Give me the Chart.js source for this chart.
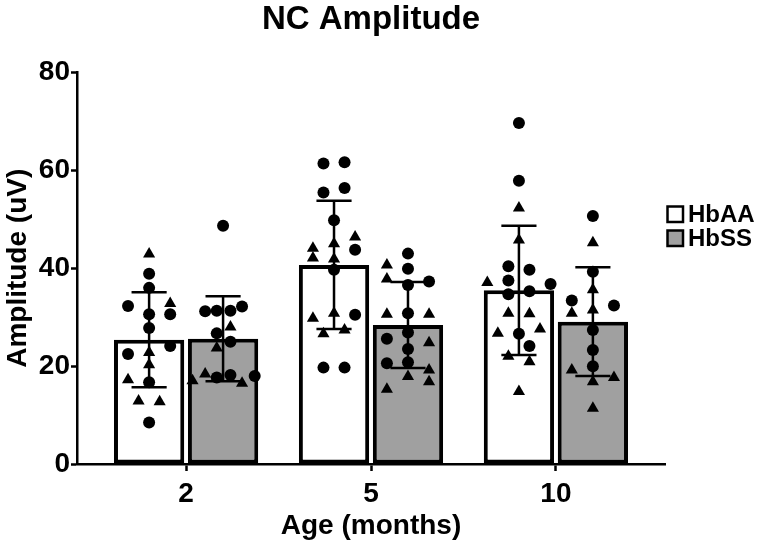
<!DOCTYPE html>
<html><head><meta charset="utf-8">
<script src="https://cdn.jsdelivr.net/npm/chart.js@4.4.1/dist/chart.umd.min.js"></script>
<style>html,body{margin:0;padding:0;background:#fff;}canvas{display:block;}</style>
</head><body>
<canvas id="c" width="760" height="550"></canvas>
<script>
// ---- data ----
const categories = ['2', '5', '10'];
const seriesNames = ['HbAA', 'HbSS'];
const hbaaMean = [25.4, 40.7, 35.5];
const hbaaSD   = [9.7, 13.1, 13.2];
const hbssMean = [25.6, 28.4, 29.1];
const hbssSD   = [8.7, 8.8, 11.1];

// individual values per age group; marker: c = circle, t = triangle; col = jitter column
const hbaaValues = [
  [42.9,38.9,36.0,32.3,32.8,30.6,30.6,27.8,24.1,22.5,22.8,20.3,17.2,16.7,12.9,12.7,8.5],
  [61.4,61.7,55.5,56.4,49.8,46.4,43.8,45.0,44.1,42.1,41.9,39.7,29.8,30.8,30.5,26.6,27.4,19.7,19.7],
  [69.7,57.9,52.3,45.8,40.4,39.7,37.5,37.1,36.8,34.7,35.3,30.8,30.7,26.7,26.6,27.6,24.1,22.0,20.9,14.8]
];
const hbaaMarkers = ['tccctccccctttcttc', 'ccccctcttttcttcttcc', 'ccttccctccctttctcttt'];
const hbaaCols = [
  [0,0,0,-2,2,2,0,0,2,-2,0,0,-2,0,-1,1,0],
  [-1,1,-1,1,0,2,2,0,-2,-2,0,0,-2,0,2,-1,1,-1,1],
  [0,0,0,0,-1,1,-1,-3,3,-1,1,-1,1,-2,0,2,1,-1,1,0]
];
const hbssValues = [
  [48.7,31.2,31.3,31.3,32.2,28.0,26.7,25.0,23.7,18.4,17.0,17.7,18.2,16.5,18.0],
  [43.0,40.7,39.9,37.8,36.6,37.3,30.6,30.8,30.6,26.9,25.6,24.8,23.5,20.6,20.8,19.2,17.9,16.8,15.3],
  [50.7,45.2,39.3,35.6,33.4,32.4,30.8,31.5,27.4,23.3,20.0,19.2,17.7,16.8,11.4]
];
const hbssMarkers = ['ccccctcctttcctc', 'ctctcctctcctccctttt', 'ctctccttccctttt'];
const hbssCols = [
  [0,-1.7,-0.6,0.7,1.8,0.7,-0.6,0.7,-0.6,-1.7,-2.9,-0.6,0.7,1.8,3.0],
  [0,-2,0,-2,0,2,-2,0,2,0,-2,2,0,-2,0,2,0,2,-2],
  [0,0,0,0,-2,2,-2,0,0,0,0,-2,2,0,0]
];

// ---- layout constants ----
const FONT = "'Liberation Sans', Arial, Helvetica, sans-serif";
const GROUP_OFFSET = 0.2;
const COL_UNIT = 0.057;

function pointsFor(values, markers, cols, side) {
  const pts = [], styles = [];
  values.forEach((arr, i) => arr.forEach((v, k) => {
    pts.push({x: i + side * GROUP_OFFSET + cols[i][k] * COL_UNIT, y: v});
    styles.push(markers[i][k] === 't' ? 'triangle' : 'circle');
  }));
  return {pts, styles};
}
const aPts = pointsFor(hbaaValues, hbaaMarkers, hbaaCols, -1);
const sPts = pointsFor(hbssValues, hbssMarkers, hbssCols, 1);

const errorBars = {
  id: 'errorBars',
  afterDatasetsDraw(chart) {
    const ctx = chart.ctx, ys = chart.scales.y;
    [[0, hbaaMean, hbaaSD], [1, hbssMean, hbssSD]].forEach(([di, m, s]) => {
      chart.getDatasetMeta(di).data.forEach((bar, i) => {
        const x = bar.x, half = bar.width / 4;
        const yt = ys.getPixelForValue(m[i] + s[i]), yb = ys.getPixelForValue(m[i] - s[i]);
        ctx.save();
        ctx.strokeStyle = '#000'; ctx.lineWidth = 2.5; ctx.lineCap = 'butt';
        ctx.beginPath();
        ctx.moveTo(x, yt); ctx.lineTo(x, yb);
        ctx.moveTo(x - half, yt); ctx.lineTo(x + half, yt);
        ctx.moveTo(x - half, yb); ctx.lineTo(x + half, yb);
        ctx.stroke();
        ctx.restore();
      });
    });
  }
};

const sideLegend = {
  id: 'sideLegend',
  afterDraw(chart) {
    const ctx = chart.ctx;
    const x0 = chart.chartArea.right + 2;
    [0, 1].forEach((di, k) => {
      const ds = chart.data.datasets[di];
      const cy = 214 + k * 24;
      ctx.save();
      ctx.fillStyle = ds.backgroundColor;
      ctx.fillRect(x0 + 0.5, cy - 7.5, 15.5, 15.5);
      ctx.strokeStyle = '#000'; ctx.lineWidth = 2.5;
      ctx.strokeRect(x0 + 0.5, cy - 7.5, 15.5, 15.5);
      ctx.fillStyle = '#000';
      ctx.font = 'bold 24px ' + FONT;
      ctx.textBaseline = 'middle';
      ctx.fillText(ds.label, x0 + 21, cy + 1);
      ctx.restore();
    });
  }
};

new Chart(document.getElementById('c'), {
  type: 'bar',
  data: {
    datasets: [
      {label: seriesNames[0], data: hbaaMean.map((v, i) => ({x: i, y: v})), backgroundColor: '#ffffff', borderColor: '#000000', borderWidth: 4, borderSkipped: false, order: 3},
      {label: seriesNames[1], data: hbssMean.map((v, i) => ({x: i, y: v})), backgroundColor: '#a0a0a0', borderColor: '#000000', borderWidth: 4, borderSkipped: false, order: 3},
      {type: 'scatter', label: seriesNames[0] + ' points', data: aPts.pts, pointStyle: aPts.styles,
       pointRadius: ctx => aPts.styles[ctx.dataIndex] === 'triangle' ? 7 : 6,
       backgroundColor: '#000', borderColor: '#000', borderWidth: 0, order: 1},
      {type: 'scatter', label: seriesNames[1] + ' points', data: sPts.pts, pointStyle: sPts.styles,
       pointRadius: ctx => sPts.styles[ctx.dataIndex] === 'triangle' ? 7 : 6,
       backgroundColor: '#000', borderColor: '#000', borderWidth: 0, order: 1}
    ]
  },
  options: {
    responsive: false,
    animation: false,
    devicePixelRatio: 1,
    layout: {padding: {left: 0, right: 95, top: 0, bottom: 0}},
    datasets: {bar: {categoryPercentage: 0.8, barPercentage: 0.95, grouped: true}},
    plugins: {
      legend: {display: false},
      tooltip: {enabled: false},
      title: {display: true, text: 'NC Amplitude', color: '#000', fullSize: false,
              font: {family: FONT, size: 33, weight: 'bold'}, padding: {top: 0, bottom: 33}}
    },
    scales: {
      x: {
        type: 'linear', min: -0.59, max: 2.59, offset: false, bounds: 'ticks',
        afterBuildTicks: s => { s.ticks = categories.map((c, i) => ({value: i})); },
        afterFit: s => { s.height = 86; },
        grid: {display: true, offset: false, drawOnChartArea: false, drawTicks: true, tickLength: 7, tickColor: '#000', tickWidth: 2.5},
        border: {display: true, color: '#000', width: 2.5},
        ticks: {color: '#000', font: {family: FONT, size: 28, weight: 'bold'}, padding: 6,
                callback: v => categories[v] ?? ''},
        title: {display: true, text: 'Age (months)', color: '#000', font: {family: FONT, size: 28, weight: 'bold'}, padding: {top: 0, bottom: 7}}
      },
      y: {
        min: 0, max: 80,
        afterFit: s => { s.width = 77; },
        grid: {display: true, drawOnChartArea: false, drawTicks: true, tickLength: 6, tickColor: '#000', tickWidth: 2.5},
        border: {display: true, color: '#000', width: 2.5},
        ticks: {stepSize: 20, color: '#000', font: {family: FONT, size: 28, weight: 'bold'}, padding: 1},
        title: {display: true, text: 'Amplitude (uV)', color: '#000', font: {family: FONT, size: 28, weight: 'bold'}, padding: {top: 1, bottom: 0}}
      }
    }
  },
  plugins: [errorBars, sideLegend]
});
</script>
</body></html>
